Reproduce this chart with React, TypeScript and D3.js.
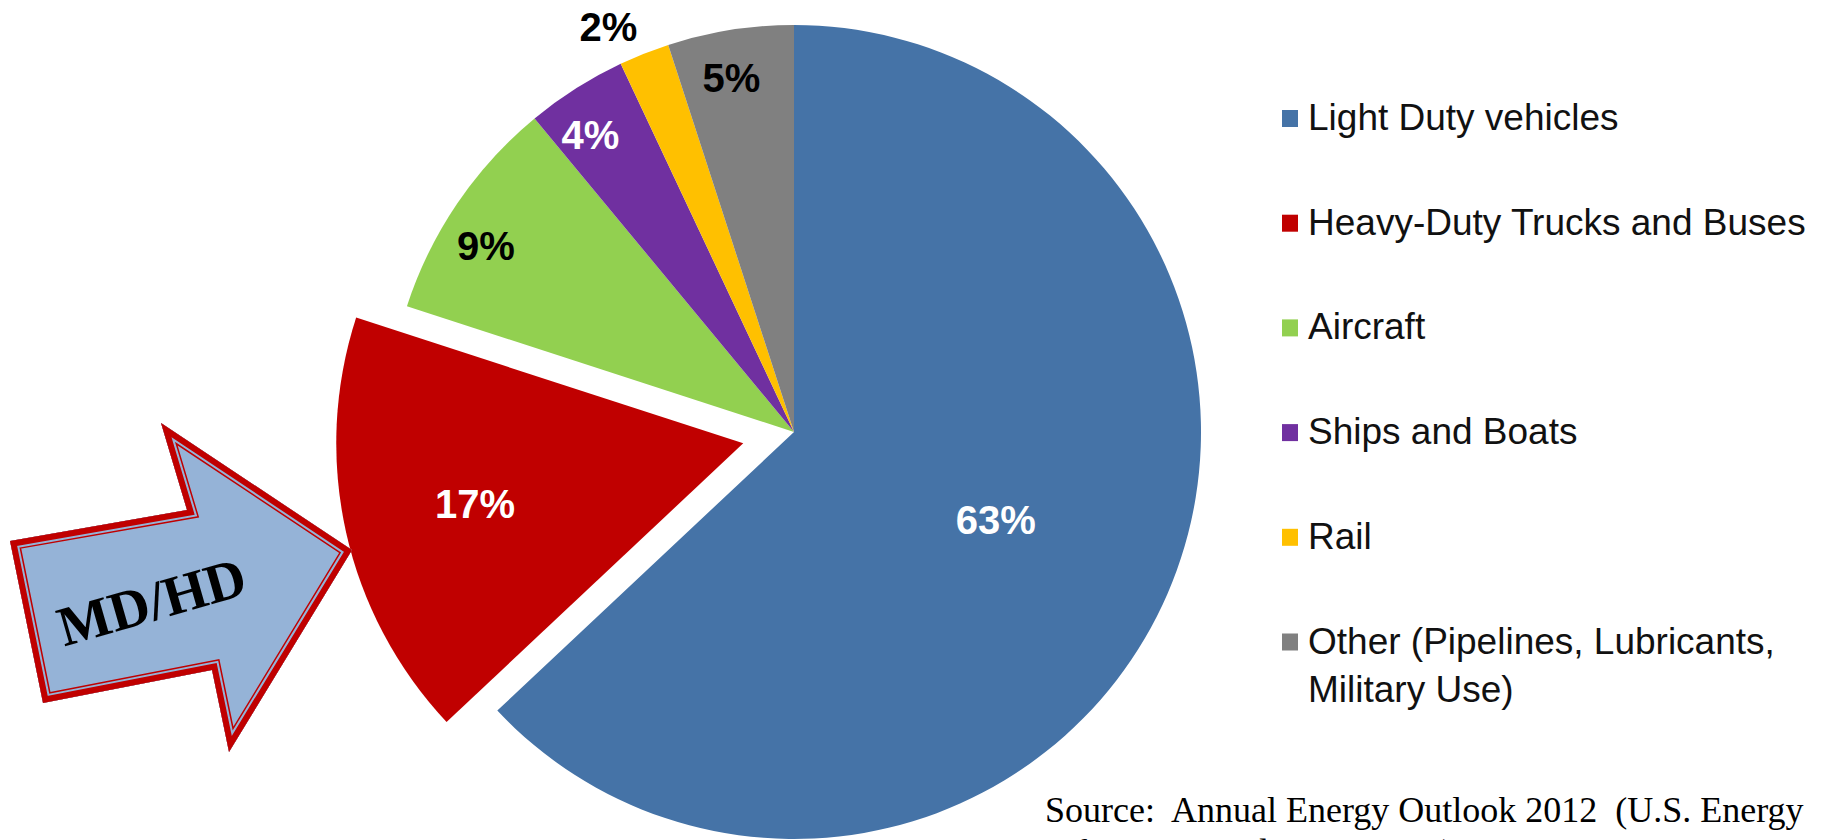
import React from "react";
import * as d3 from "d3";

const categories = [
  "Light Duty vehicles",
  "Heavy-Duty Trucks and Buses",
  "Aircraft",
  "Ships and Boats",
  "Rail",
  "Other (Pipelines, Lubricants, Military Use)",
];
const shares = [63, 17, 9, 4, 2, 5];
const colors = ["#4573a7", "#c00000", "#92d050", "#7030a0", "#ffc000", "#808080"];
const labelColors = ["#ffffff", "#ffffff", "#000000", "#ffffff", "#000000", "#000000"];
const legendLines = [
  ["Light Duty vehicles"],
  ["Heavy-Duty Trucks and Buses"],
  ["Aircraft"],
  ["Ships and Boats"],
  ["Rail"],
  ["Other (Pipelines, Lubricants,", "Military Use)"],
];
const explodedIndex = 1;
// label placement: radius factor and angular tweak (deg)
const labelRadius = [0.54, 0.675, 0.885, 0.885, 1.095, 0.885];
const labelAngleTweak = [0, 0, -3, -2, -3, -1];

const W = 1826;
const H = 840;
const CX = 794;
const CY = 432;
const R = 407;
const EXPLODE = 52;

const arrowPts: [number, number][] = [
  [10, 541],
  [187, 510],
  [161, 423],
  [352, 550],
  [229, 752],
  [212, 670],
  [43, 703],
];

export default function App() {
  const pie = d3
    .pie<number>()
    .sort(null)
    .value((d) => d)
    .startAngle(0)
    .endAngle(2 * Math.PI);
  const arcs = pie(shares);
  const arc = d3.arc<d3.PieArcDatum<number>>().innerRadius(0).outerRadius(R);

  const arrowPath = "M" + arrowPts.map((p) => p.join(",")).join("L") + "Z";
  const font = "'Liberation Sans', Arial, sans-serif";
  const serif = "'Liberation Serif', 'Times New Roman', serif";

  const legendX = 1282;
  const legendTextX = 1308;
  const legendY0 = 130;
  const legendStep = 104.7;

  return (
    <svg
      width={W}
      height={H}
      style={{ position: "absolute", left: 0, top: 0, background: "#fff" }}
    >
      <rect x={0} y={0} width={W} height={H} fill="#fff" />
      <g transform={`translate(${CX},${CY})`}>
        {arcs.map((a, i) => {
          const mid = (a.startAngle + a.endAngle) / 2;
          const off = i === explodedIndex ? EXPLODE : 0;
          const dx = Math.sin(mid) * off;
          const dy = -Math.cos(mid) * off;
          return (
            <path
              key={i}
              d={arc(a) || ""}
              fill={colors[i]}
              transform={`translate(${dx},${dy})`}
            />
          );
        })}
        {arcs.map((a, i) => {
          const mid = (a.startAngle + a.endAngle) / 2 + (labelAngleTweak[i] * Math.PI) / 180;
          const off = i === explodedIndex ? EXPLODE : 0;
          const midRaw = (a.startAngle + a.endAngle) / 2;
          const ox = Math.sin(midRaw) * off;
          const oy = -Math.cos(midRaw) * off;
          const r = labelRadius[i] * R;
          const x = ox + Math.sin(mid) * r;
          const y = oy - Math.cos(mid) * r;
          return (
            <text
              key={"l" + i}
              x={x}
              y={y}
              dy="0.36em"
              textAnchor="middle"
              fontFamily={font}
              fontWeight="bold"
              fontSize={40}
              fill={labelColors[i]}
            >
              {shares[i]}%
            </text>
          );
        })}
      </g>

      <defs>
        <clipPath id="arrowClip">
          <path d={arrowPath} />
        </clipPath>
      </defs>
      <path d={arrowPath} fill="#95b3d7" />
      <g clipPath="url(#arrowClip)">
        <path d={arrowPath} fill="none" stroke="#c00000" strokeWidth={19} strokeLinejoin="miter" strokeMiterlimit={10} />
        <path d={arrowPath} fill="none" stroke="#95b3d7" strokeWidth={16} strokeLinejoin="miter" strokeMiterlimit={10} />
        <path d={arrowPath} fill="none" stroke="#c00000" strokeWidth={12} strokeLinejoin="miter" strokeMiterlimit={10} />
      </g>
      <text
        x={157}
        y={620}
        transform="rotate(-16 157 620)"
        textAnchor="middle"
        fontFamily={serif}
        fontWeight="bold"
        fontSize={56}
        fill="#000"
      >
        MD/HD
      </text>

      {categories.map((c, i) => {
        const y = legendY0 + i * legendStep;
        return (
          <g key={c}>
            <rect x={legendX} y={y - 20} width={16} height={17} fill={colors[i]} />
            {legendLines[i].map((ln, j) => (
              <text
                key={j}
                x={legendTextX}
                y={y + j * 48}
                fontFamily={font}
                fontSize={37}
                fill="#111"
              >
                {ln}
              </text>
            ))}
          </g>
        );
      })}

      <text x={1045} y={822} fontFamily={serif} fontSize={36} fill="#000" xmlSpace="preserve">
        {"Source:  Annual Energy Outlook 2012  (U.S. Energy"}
      </text>
      <text x={1045} y={864} fontFamily={serif} fontSize={36} fill="#000">
        Information Administration)
      </text>
    </svg>
  );
}
